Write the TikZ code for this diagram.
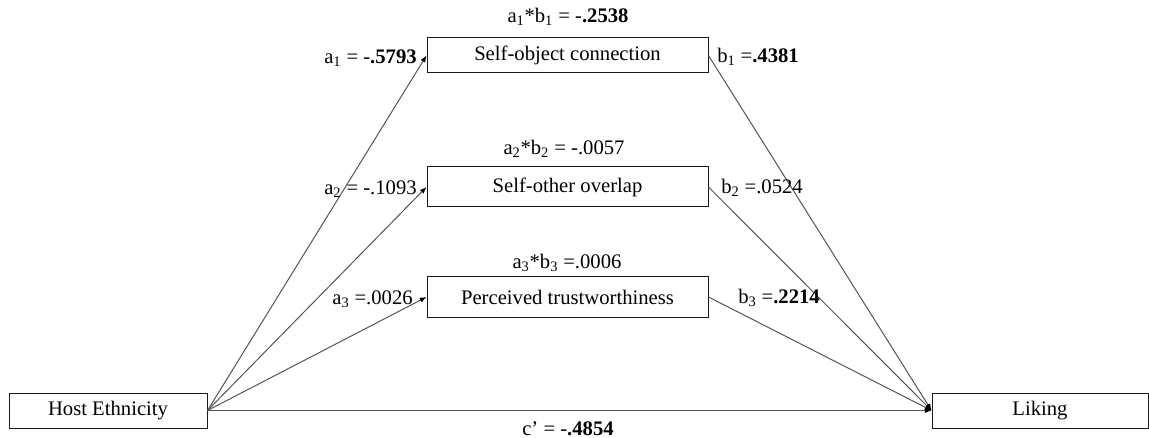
\documentclass[tikz,border=0pt]{standalone}
\usepackage{fontspec}
\setmainfont{Liberation Serif}
\usetikzlibrary{arrows.meta,positioning,calc}
\definecolor{Ink}{HTML}{1A1A1A}
\definecolor{Wire}{HTML}{555555}

\begin{document}
\begin{tikzpicture}[x=0.75pt,y=-0.75pt,
  every node/.style={font=\fontsize{15.5}{18}\selectfont,text=black},
  var/.style={draw=Ink,line width=0.75pt,inner sep=0pt,minimum height=26.25pt},
  med/.style={var,minimum width=210.75pt},
  wire/.style={draw=Wire,line width=0.75pt,-{Latex[length=5pt,width=4pt,black]}},
  coef/.style={inner sep=0pt}]
\useasboundingbox (0,0) rectangle (1149,438);
\node[var,minimum width=148.5pt] (host) at (108,410.5) {Host Ethnicity};
\node[var,minimum width=162pt] (liking) at (1040,410.5) {Liking};
\node[med] (soc) at (567.5,55.5) {Self-object connection};
\node[med,minimum height=30pt] (soo) at (567.5,187) {Self-other overlap};
\node[med,minimum height=31pt] (ptw) at (567.5,297) {Perceived trustworthiness};
\foreach \m in {soc,soo,ptw} {\draw[wire] (host.east) -- (\m.west); \draw[wire] (\m.east) -- (liking.west);}
\draw[wire] (host.east) -- (liking.west);
\node[coef,anchor=east] (a1) at (417,58) {a\textsubscript{1} = -\textbf{.5793}};
\node[coef,anchor=west] (b1) at (717,57) {b\textsubscript{1} =\textbf{.4381}};
\node[coef] (ab1) at (568,17) {a\textsubscript{1}*b\textsubscript{1} = -\textbf{.2538}};
\node[coef,anchor=east] (a2) at (417,189) {a\textsubscript{2} = -.1093};
\node[coef,anchor=west] (b2) at (721,188) {b\textsubscript{2} =.0524};
\node[coef] (ab2) at (564,149) {a\textsubscript{2}*b\textsubscript{2} = -.0057};
\node[coef,anchor=east] (a3) at (413,299) {a\textsubscript{3} =.0026};
\node[coef,anchor=west] (b3) at (738,298) {b\textsubscript{3} =\textbf{.2214}};
\node[coef] (ab3) at (567,263) {a\textsubscript{3}*b\textsubscript{3} =.0006};
\node[coef,anchor=base] (cp) at (568,435) {c’ = -\textbf{.4854}};
\end{tikzpicture}
\end{document}
